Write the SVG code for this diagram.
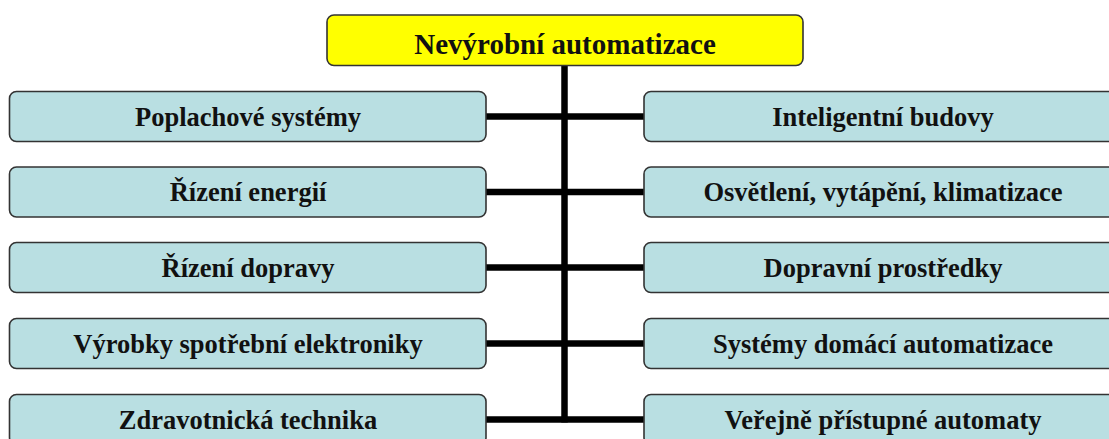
<svg xmlns="http://www.w3.org/2000/svg" width="1109" height="439" viewBox="0 0 1109 439">
  <style>
    .box { fill: #b9dfe2; stroke: #333333; stroke-width: 1.6; }
    .root { fill: #ffff00; stroke: #333333; stroke-width: 1.6; }
    .lbl { font-family: "Liberation Serif", "Times New Roman", serif; font-weight: bold; font-size: 26.5px; fill: #111111; text-anchor: middle; }
    .title { font-size: 29px; }
    .wire { stroke: #000000; stroke-width: 6.5; fill: none; }
  </style>
  <rect width="1109" height="439" fill="#ffffff"/>

  <!-- connectors: central spine and horizontal branches -->
  <g id="connectors">
    <line class="wire" x1="564.5" y1="65" x2="564.5" y2="422.5"/>
    <line class="wire" x1="486" y1="116.5" x2="644" y2="116.5"/>
    <line class="wire" x1="486" y1="192" x2="644" y2="192"/>
    <line class="wire" x1="486" y1="267.5" x2="644" y2="267.5"/>
    <line class="wire" x1="486" y1="343.5" x2="644" y2="343.5"/>
    <line class="wire" x1="486" y1="419.5" x2="644" y2="419.5"/>
  </g>

  <g id="root">
    <rect class="root" x="327" y="15" width="476" height="50.5" rx="7"/>
    <text class="lbl title" x="565" y="53.5">Nevýrobní automatizace</text>
  </g>

  <!-- left column -->
  <g id="poplachove-systemy">
    <rect class="box" x="9.5" y="91.5" width="476.5" height="50" rx="7"/>
    <text class="lbl" x="248" y="125.5">Poplachové systémy</text>
  </g>
  <g id="rizeni-energii">
    <rect class="box" x="9.5" y="167" width="476.5" height="50" rx="7"/>
    <text class="lbl" x="248" y="201">Řízení energií</text>
  </g>
  <g id="rizeni-dopravy">
    <rect class="box" x="9.5" y="242.5" width="476.5" height="50" rx="7"/>
    <text class="lbl" x="248" y="276.5">Řízení dopravy</text>
  </g>
  <g id="vyrobky-spotrebni-elektroniky">
    <rect class="box" x="9.5" y="318.5" width="476.5" height="50" rx="7"/>
    <text class="lbl" x="248" y="352.5">Výrobky spotřební elektroniky</text>
  </g>
  <g id="zdravotnicka-technika">
    <rect class="box" x="9.5" y="394.5" width="476.5" height="50" rx="7"/>
    <text class="lbl" x="248" y="428.5">Zdravotnická technika</text>
  </g>

  <!-- right column (runs past the right edge) -->
  <g id="inteligentni-budovy">
    <rect class="box" x="644" y="91.5" width="478" height="50" rx="7"/>
    <text class="lbl" x="883" y="125.5">Inteligentní budovy</text>
  </g>
  <g id="osvetleni-vytapeni-klimatizace">
    <rect class="box" x="644" y="167" width="478" height="50" rx="7"/>
    <text class="lbl" x="883" y="201">Osvětlení, vytápění, klimatizace</text>
  </g>
  <g id="dopravni-prostredky">
    <rect class="box" x="644" y="242.5" width="478" height="50" rx="7"/>
    <text class="lbl" x="883" y="276.5">Dopravní prostředky</text>
  </g>
  <g id="systemy-domaci-automatizace">
    <rect class="box" x="644" y="318.5" width="478" height="50" rx="7"/>
    <text class="lbl" x="883" y="352.5">Systémy domácí automatizace</text>
  </g>
  <g id="verejne-pristupne-automaty">
    <rect class="box" x="644" y="394.5" width="478" height="50" rx="7"/>
    <text class="lbl" x="883" y="428.5">Veřejně přístupné automaty</text>
  </g>
</svg>
